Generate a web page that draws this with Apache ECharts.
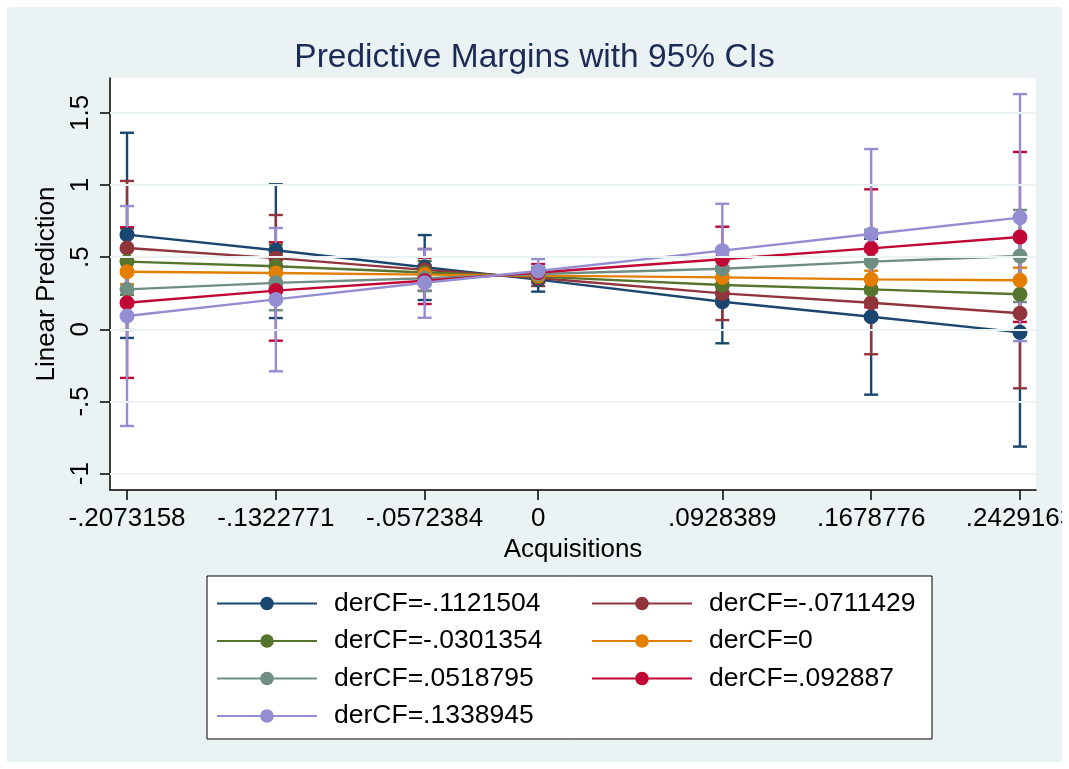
<!DOCTYPE html>
<html>
<head>
<meta charset="utf-8">
<script src="https://cdn.jsdelivr.net/npm/echarts@6/dist/echarts.min.js"></script>
<style>
  html, body { margin: 0; padding: 0; background: #fff; }
  #chart { position: absolute; left: 7px; top: 7px; width: 1055px; height: 755px; background: #eaf2f3; }
</style>
</head>
<body>
<div id="chart"></div>
<script>
// Acquisitions values where margins were computed
const xTicks = [-0.2073158, -0.1322771, -0.0572384, 0, 0.0928389, 0.1678776, 0.2429163];
const yTicks = [-1, -0.5, 0, 0.5, 1, 1.5];

const seriesNames = ['derCF=-.1121504', 'derCF=-.0711429', 'derCF=-.0301354', 'derCF=0',
  'derCF=.0518795', 'derCF=.092887', 'derCF=.1338945'];
const seriesColors = ['#1a476f', '#90353b', '#55752f', '#e37e00', '#6e8e84', '#c10534', '#938dd2'];

// predicted margins (one row per derCF value)
const margins = [
  [0.656, 0.548, 0.430, 0.344, 0.191, 0.087, -0.021],
  [0.563, 0.493, 0.412, 0.355, 0.249, 0.184, 0.111],
  [0.469, 0.437, 0.394, 0.365, 0.307, 0.277, 0.243],
  [0.399, 0.390, 0.379, 0.372, 0.360, 0.346, 0.340],
  [0.277, 0.322, 0.354, 0.383, 0.420, 0.469, 0.508],
  [0.184, 0.268, 0.336, 0.394, 0.485, 0.561, 0.640],
  [0.092, 0.207, 0.323, 0.404, 0.545, 0.660, 0.774]
];
// 95% CI lower / upper bounds
const ciLow = [
  [-0.060, 0.078, 0.203, 0.261, -0.097, -0.453, -0.813],
  [0.098, 0.200, 0.267, 0.300, 0.064, -0.173, -0.409],
  [0.239, 0.287, 0.314, 0.325, 0.207, 0.097, -0.017],
  [0.312, 0.330, 0.339, 0.337, 0.310, 0.286, 0.253],
  [-0.005, 0.132, 0.265, 0.338, 0.290, 0.250, 0.189],
  [-0.337, -0.079, 0.175, 0.336, 0.259, 0.152, 0.051],
  [-0.670, -0.291, 0.080, 0.323, 0.220, 0.071, -0.082]
];
const ciHigh = [
  [1.362, 1.005, 0.653, 0.427, 0.479, 0.627, 0.771],
  [1.028, 0.792, 0.557, 0.410, 0.434, 0.541, 0.631],
  [0.699, 0.587, 0.474, 0.405, 0.407, 0.457, 0.503],
  [0.486, 0.450, 0.419, 0.407, 0.410, 0.406, 0.427],
  [0.559, 0.518, 0.443, 0.428, 0.550, 0.690, 0.827],
  [0.707, 0.603, 0.496, 0.452, 0.711, 0.970, 1.229],
  [0.854, 0.702, 0.554, 0.487, 0.870, 1.249, 1.630]
];

function stataNum(v) {
  return String(v).replace(/^(-?)0\./, '$1.');
}

const font = 'Liberation Sans, Arial, sans-serif';
const chart = echarts.init(document.getElementById('chart'));

let series = [];
// gridlines
series.push({
  type: 'line',
  data: [],
  z: 1,
  markLine: {
    silent: true,
    symbol: 'none',
    label: { show: false },
    lineStyle: { color: '#eaf2f3', width: 2, type: 'solid' },
    data: yTicks.map(v => ({ yAxis: v }))
  }
});
// confidence interval caps
seriesNames.forEach((name, i) => {
  series.push({
    type: 'custom',
    name: 'ci' + i,
    z: 2,
    data: xTicks.map((x, j) => [x, ciLow[i][j], ciHigh[i][j]]),
    renderItem: (params, api) => {
      const lo = api.coord([api.value(0), api.value(1)]);
      const hi = api.coord([api.value(0), api.value(2)]);
      const hw = 7;
      const style = { stroke: seriesColors[i], lineWidth: 2.4 };
      return {
        type: 'group',
        children: [
          { type: 'line', shape: { x1: lo[0], y1: lo[1], x2: hi[0], y2: hi[1] }, style: style },
          { type: 'line', shape: { x1: lo[0] - hw, y1: lo[1], x2: lo[0] + hw, y2: lo[1] }, style: style },
          { type: 'line', shape: { x1: hi[0] - hw, y1: hi[1], x2: hi[0] + hw, y2: hi[1] }, style: style }
        ]
      };
    }
  });
});
// connected margins
seriesNames.forEach((name, i) => {
  series.push({
    type: 'line',
    name: name,
    z: 3,
    data: xTicks.map((x, j) => [x, margins[i][j]]),
    symbol: 'circle',
    symbolSize: 15,
    itemStyle: { color: seriesColors[i] },
    lineStyle: { color: seriesColors[i], width: 2.4 }
  });
});

const legendText = { color: '#000', fontSize: 26.5, fontFamily: font, padding: [0, 0, 0, 12] };

chart.setOption({
  animation: false,
  title: {
    text: 'Predictive Margins with 95% CIs',
    left: 'center',
    top: 29,
    textStyle: { color: '#1c2b55', fontSize: 33.5, fontWeight: 'normal', fontFamily: font }
  },
  grid: {
    left: 103, top: 71, width: 926, height: 412,
    outerBoundsMode: 'none',
    containLabel: false,
    show: true, backgroundColor: '#fff', borderWidth: 0
  },
  xAxis: {
    type: 'value',
    min: -0.2159, max: 0.2510,
    name: 'Acquisitions',
    nameLocation: 'middle',
    nameGap: 44,
    nameTextStyle: { color: '#000', fontSize: 26, fontFamily: font },
    axisLine: { onZero: false, lineStyle: { color: '#000', width: 1.5 } },
    axisTick: { customValues: xTicks, length: 10, lineStyle: { color: '#000', width: 1.5 } },
    axisLabel: { customValues: xTicks, formatter: stataNum, color: '#000', fontSize: 26, fontFamily: font, margin: 16 },
    splitLine: { show: false }
  },
  yAxis: {
    type: 'value',
    min: -1.1137, max: 1.7415,
    name: 'Linear Prediction',
    nameLocation: 'middle',
    nameGap: 43,
    nameRotate: 90,
    nameTextStyle: { color: '#000', fontSize: 26, fontFamily: font },
    axisLine: { show: true, onZero: false, lineStyle: { color: '#000', width: 1.5 } },
    axisTick: { show: true, customValues: yTicks, length: 10, lineStyle: { color: '#000', width: 1.5 } },
    axisLabel: { customValues: yTicks, formatter: stataNum, rotate: 90, color: '#000', fontSize: 26, fontFamily: font, margin: 16 },
    splitLine: { show: false }
  },
  graphic: [{
    type: 'rect',
    shape: { x: 200, y: 569, width: 725, height: 163 },
    style: { fill: '#fff', stroke: '#000', lineWidth: 1 }
  }],
  legend: [{
    orient: 'vertical',
    left: 204, top: 578,
    itemWidth: 100, itemHeight: 17, itemGap: 10.5,
    textStyle: legendText,
    data: [seriesNames[0], seriesNames[2], seriesNames[4], seriesNames[6]]
  }, {
    orient: 'vertical',
    left: 579, top: 578,
    itemWidth: 100, itemHeight: 17, itemGap: 10.5,
    textStyle: legendText,
    data: [seriesNames[1], seriesNames[3], seriesNames[5]]
  }],
  series: series
});
</script>
</body>
</html>
